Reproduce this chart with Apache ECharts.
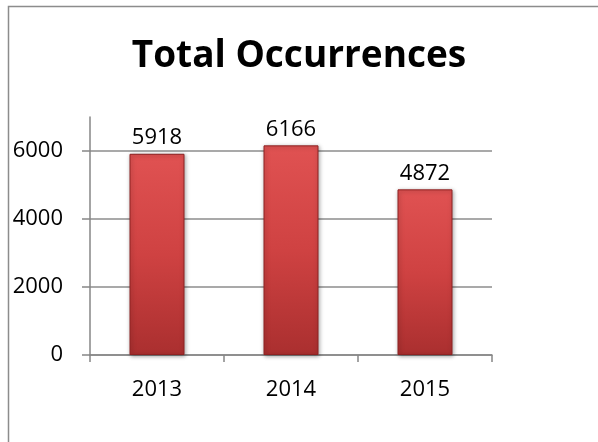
<!DOCTYPE html>
<html>
<head>
<meta charset="utf-8">
<script src="https://cdn.jsdelivr.net/npm/echarts@6/dist/echarts.min.js"></script>
<style>
  html, body { margin: 0; padding: 0; background: #fff; }
  #chart { width: 598px; height: 442px; }
</style>
</head>
<body>
<div id="chart"></div>
<script>
// Yearly totals
const years = ['2013', '2014', '2015'];
const occurrences = [5918, 6166, 4872];
const yTicksMax = 6000;   // highest labelled tick
const yAxisMax = 7000;    // axis line runs a little above the last tick
const yStep = 2000;

const FONT = '"Open Sans", "Liberation Sans", sans-serif';
const GRID = { left: 90, right: 106, bottom: 87 };
const plotHeight = 442 - 87 - 117;
const tickGridTop = 117 + plotHeight * (1 - yTicksMax / yAxisMax);

const barFill = new echarts.graphic.LinearGradient(0, 0, 0, 1, [
  { offset: 0, color: '#e05252' },
  { offset: 0.5, color: '#cf4242' },
  { offset: 1, color: '#aa2f2f' }
]);

const chart = echarts.init(document.getElementById('chart'), null, { renderer: 'canvas' });
chart.setOption({
  backgroundColor: '#ffffff',
  animation: false,
  graphic: [{
    type: 'rect',
    left: 6, top: 4,
    shape: { width: 700, height: 600 },
    style: { fill: 'none', stroke: '#8c8c8c', lineWidth: 1.5 },
    z: -10, silent: true
  }],
  title: {
    text: 'Total Occurrences',
    left: 'center',
    top: 33,
    textStyle: { fontFamily: FONT, fontWeight: 'bold', fontSize: 37, color: '#000' }
  },
  grid: [
    // plot area holding the bars and the full-height axis line
    Object.assign({ top: 117 }, GRID),
    // area spanning 0..6000 for ticks, labels and gridlines
    Object.assign({ top: tickGridTop }, GRID)
  ],
  xAxis: [{
    type: 'category',
    gridIndex: 0,
    data: years,
    axisLine: { lineStyle: { color: '#868686', width: 1.5 } },
    axisTick: { show: true, alignWithLabel: false, length: 7, lineStyle: { color: '#868686', width: 1.5 } },
    axisLabel: { fontFamily: FONT, fontSize: 22, color: '#000', margin: 24 }
  }, {
    type: 'category',
    gridIndex: 1,
    data: years,
    show: false
  }],
  yAxis: [{
    type: 'value',
    gridIndex: 0,
    min: 0, max: yAxisMax,
    axisLine: { show: true, lineStyle: { color: '#868686', width: 1.5 } },
    axisTick: { show: false },
    axisLabel: { show: false },
    splitLine: { show: false }
  }, {
    type: 'value',
    gridIndex: 1,
    min: 0, max: yTicksMax, interval: yStep,
    axisLine: { show: false },
    axisTick: { show: true, length: 8, lineStyle: { color: '#868686', width: 1.5 } },
    axisLabel: { fontFamily: FONT, fontSize: 22, color: '#000', margin: 27, formatter: v => String(v) },
    splitLine: { show: true, lineStyle: { color: '#8c8c8c', width: 1.5 } }
  }],
  series: [{
    type: 'bar',
    xAxisIndex: 0,
    yAxisIndex: 0,
    data: occurrences,
    barWidth: 55,
    itemStyle: {
      color: barFill,
      borderColor: '#8e2222',
      borderWidth: 1,
      shadowColor: 'rgba(0,0,0,0.35)',
      shadowBlur: 4,
      shadowOffsetX: 1,
      shadowOffsetY: 1
    },
    label: {
      show: true,
      position: 'top',
      distance: 5,
      fontFamily: FONT,
      fontSize: 22,
      color: '#000'
    }
  }]
});
</script>
</body>
</html>
